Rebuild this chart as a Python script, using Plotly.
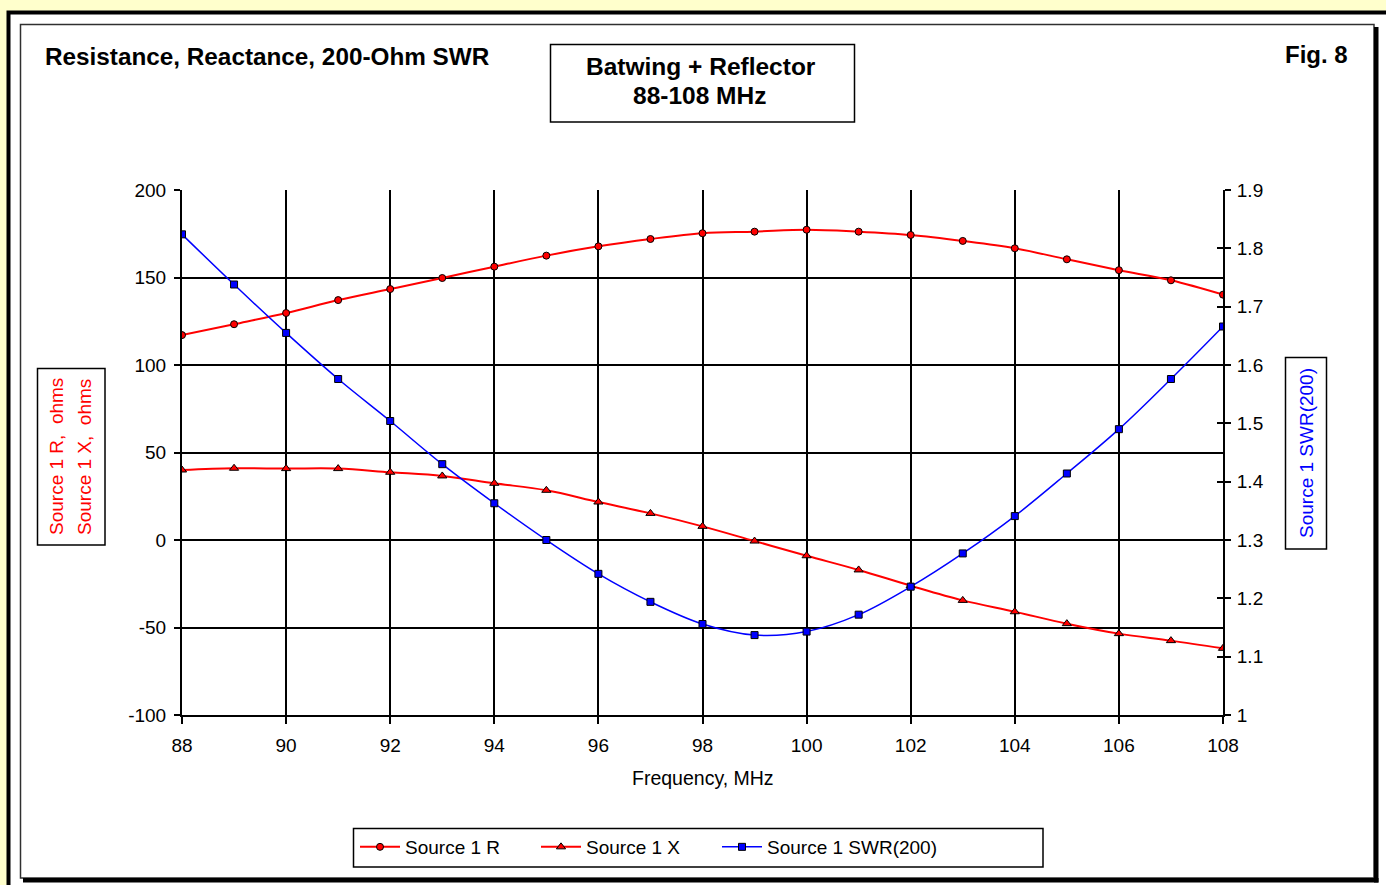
import plotly.graph_objects as go

W, H = 1386, 885

freq = [88, 89, 90, 91, 92, 93, 94, 95, 96, 97, 98, 99, 100, 101, 102, 103, 104, 105, 106, 107, 108]
r_ohms = [117.1, 123.3, 129.7, 137.1, 143.4, 149.7, 156.2, 162.5, 167.8, 172.0, 175.3,
          176.2, 177.3, 176.2, 174.3, 170.9, 166.7, 160.4, 154.2, 148.4, 140.2]
x_ohms = [40.0, 41.0, 40.8, 40.8, 38.7, 36.6, 32.4, 28.4, 21.7, 15.2, 7.8,
          -0.6, -9.0, -17.1, -26.1, -34.5, -41.0, -47.8, -53.5, -57.5, -61.9]
swr200 = [1.824, 1.738, 1.655, 1.576, 1.504, 1.430, 1.363, 1.300, 1.242, 1.194, 1.156,
          1.137, 1.143, 1.172, 1.220, 1.277, 1.341, 1.414, 1.490, 1.576, 1.666]
x_ticks = [88, 90, 92, 94, 96, 98, 100, 102, 104, 106, 108]
y_ticks = [-100, -50, 0, 50, 100, 150, 200]
y_ticktext = ["-100", "-50", "0", "50", "100", "150", "200"]
names = ["Source 1 R", "Source 1 X", "Source 1 SWR(200)"]


def px(x):
    return x / W


def py(y):
    return 1 - y / H


FONT = "Liberation Sans, Arial, sans-serif"
RED = "#FF0000"
BLUE = "#0000FF"

fig = go.Figure()
fig.add_trace(go.Scatter(
    x=freq, y=r_ohms, name=names[0], mode="lines+markers",
    line=dict(color=RED, width=2, shape="spline"),
    marker=dict(symbol="circle", size=7, color=RED, line=dict(color="black", width=1)),
    yaxis="y", legendwidth=126))
fig.add_trace(go.Scatter(
    x=freq, y=x_ohms, name=names[1], mode="lines+markers",
    line=dict(color=RED, width=2, shape="spline"),
    marker=dict(symbol="triangle-up", size=8, color=RED, line=dict(color="black", width=1)),
    yaxis="y", legendwidth=126))
fig.add_trace(go.Scatter(
    x=freq, y=swr200, name=names[2], mode="lines+markers",
    line=dict(color=BLUE, width=1.5, shape="spline"),
    marker=dict(symbol="square", size=7, color=BLUE, line=dict(color="black", width=1)),
    yaxis="y2", legendwidth=220))

xdom = [px(182), px(1223)]
ydom = [py(715), py(190)]

fig.update_layout(
    width=W, height=H,
    margin=dict(l=0, r=0, t=0, b=0, pad=0),
    paper_bgcolor="#FFFFCC",
    plot_bgcolor="rgba(0,0,0,0)",
    font=dict(family=FONT, size=19, color="black"),
    showlegend=True,
    xaxis=dict(
        domain=xdom, range=[88, 108], tickvals=x_ticks,
        showgrid=True, gridcolor="black", gridwidth=2,
        zeroline=False, showline=True, linecolor="black", linewidth=2,
        ticks="outside", ticklen=7, tickwidth=2, tickcolor="black",
        ticklabelstandoff=5, automargin=False,
        tickfont=dict(family=FONT, size=19, color="black"),
    ),
    yaxis=dict(
        domain=ydom, range=[-100, 200], tickvals=y_ticks, ticktext=y_ticktext,
        showgrid=True, gridcolor="black", gridwidth=2,
        zeroline=False, showline=True, linecolor="black", linewidth=2,
        ticks="outside", ticklen=6, tickwidth=2, tickcolor="black",
        ticklabelstandoff=4, automargin=False,
        tickfont=dict(family=FONT, size=19, color="black"),
    ),
    yaxis2=dict(
        domain=ydom, range=[1, 1.9], dtick=0.1, tick0=1, overlaying="y", side="right",
        anchor="x", showgrid=False, zeroline=False, showline=True,
        linecolor="black", linewidth=2,
        ticks="outside", ticklen=6, tickwidth=2, tickcolor="black",
        ticklabelstandoff=2, automargin=False,
        tickfont=dict(family=FONT, size=19, color="black"),
    ),
    yaxis3=dict(
        domain=ydom, range=[1, 1.9], dtick=0.1, tick0=1, overlaying="y", side="right",
        anchor="x", showgrid=False, zeroline=False, showline=False,
        ticks="inside", ticklen=6, tickwidth=2, tickcolor="black",
        showticklabels=False, automargin=False,
    ),
    legend=dict(
        orientation="h", x=px(355), y=py(828), xanchor="left", yanchor="top",
        bgcolor="rgba(0,0,0,0)", borderwidth=0,
        itemwidth=40,
        font=dict(family=FONT, size=19, color="black"),
    ),
)

# invisible trace to activate yaxis3 (inside half of the crossing ticks)
fig.add_trace(go.Scatter(x=[88], y=[1], yaxis="y3", showlegend=False,
                         mode="markers", marker=dict(opacity=0), hoverinfo="skip"))

shapes = [
    dict(type="rect", xref="paper", yref="paper", x0=px(8.5), x1=px(1420), y0=py(12.5), y1=py(920),
         fillcolor="white", line=dict(color="black", width=4), layer="below"),
    dict(type="rect", xref="paper", yref="paper", x0=px(20.5), x1=px(1374), y0=py(24.5), y1=py(878),
         fillcolor="white", line=dict(color="#303030", width=1.5), layer="below"),
    dict(type="rect", xref="paper", yref="paper", x0=px(1374), x1=px(1378.5), y0=py(27), y1=py(882.5),
         fillcolor="black", line=dict(width=0), layer="below"),
    dict(type="rect", xref="paper", yref="paper", x0=px(23), x1=px(1378.5), y0=py(878), y1=py(882.5),
         fillcolor="black", line=dict(width=0), layer="below"),
    dict(type="rect", xref="paper", yref="paper", x0=px(550.5), x1=px(854.5), y0=py(44.5), y1=py(122),
         line=dict(color="black", width=1.5)),
    dict(type="rect", xref="paper", yref="paper", x0=px(37.5), x1=px(105), y0=py(368.5), y1=py(545),
         line=dict(color="black", width=1.5)),
    dict(type="rect", xref="paper", yref="paper", x0=px(1285.5), x1=px(1326.5), y0=py(357.5), y1=py(549),
         line=dict(color="black", width=1.5)),
    dict(type="rect", xref="paper", yref="paper", x0=px(353.5), x1=px(1043), y0=py(828.5), y1=py(867),
         line=dict(color="black", width=1.5)),
]
fig.update_layout(shapes=shapes)

BOLD = "Liberation Sans, Arial, sans-serif"
ann = [
    dict(text="<b>Resistance, Reactance, 200-Ohm SWR</b>", x=px(43), y=py(57), xanchor="left", yanchor="middle",
         font=dict(family=BOLD, size=24.3, color="black")),
    dict(text="<b>Fig. 8</b>", x=px(1350), y=py(55), xanchor="right", yanchor="middle",
         font=dict(family=BOLD, size=24, color="black")),
    dict(text="<b>Batwing + Reflector</b>", x=px(701), y=py(67), xanchor="center", yanchor="middle",
         font=dict(family=BOLD, size=24.5, color="black")),
    dict(text="<b>88-108 MHz</b>", x=px(699), y=py(96), xanchor="center", yanchor="middle",
         font=dict(family=BOLD, size=24.5, color="black")),
    dict(text="Frequency, MHz", x=px(703), y=py(778), xanchor="center", yanchor="middle",
         font=dict(family=FONT, size=19.5, color="black")),
    dict(text="Source 1 R,\u00a0 ohms", x=px(56), y=py(457), xanchor="center", yanchor="middle",
         textangle=-90, font=dict(family=FONT, size=19, color=RED)),
    dict(text="Source 1 X,\u00a0 ohms", x=px(84), y=py(457), xanchor="center", yanchor="middle",
         textangle=-90, font=dict(family=FONT, size=19, color=RED)),
    dict(text="Source 1 SWR(200)", x=px(1306), y=py(453), xanchor="center", yanchor="middle",
         textangle=-90, font=dict(family=FONT, size=19, color=BLUE)),
]
for a in ann:
    a.update(xref="paper", yref="paper", showarrow=False)
fig.update_layout(annotations=ann)

fig.write_html("out.html")
